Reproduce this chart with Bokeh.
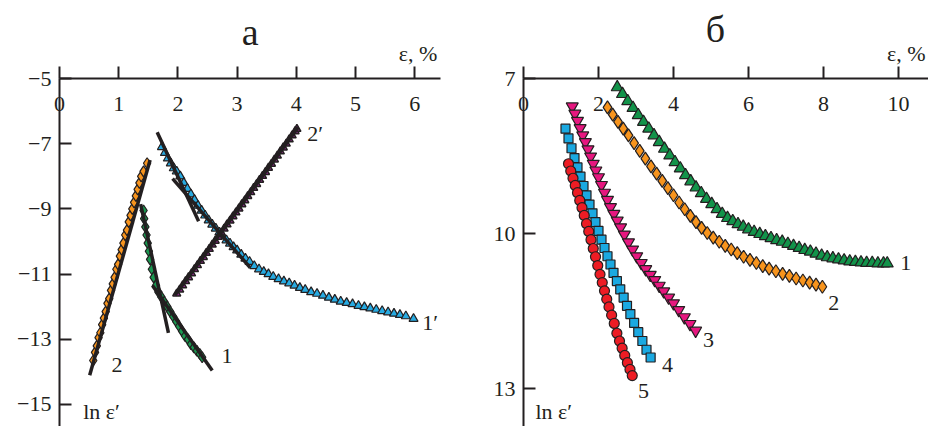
from bokeh.plotting import figure
from bokeh.models import Range1d, FixedTicker, LinearAxis, Label, LabelSet, ColumnDataSource
from bokeh.layouts import row
from bokeh.embed import file_html
from bokeh.resources import INLINE
from bokeh.core.properties import value

FONT = "Liberation Serif"
INK = "#231f20"

# ---------------- panel а ----------------
a_xticks = [0, 1, 2, 3, 4, 5, 6]
a_yticks = [-5, -7, -9, -11, -13, -15]
a_ylabels = ["\u22125", "\u22127", "\u22129", "\u221211", "\u221213", "\u221215"]

# curve 2 (orange diamonds)
a2_x = [0.57, 0.60, 0.63, 0.66, 0.69, 0.72, 0.75, 0.78, 0.81, 0.84, 0.87, 0.90, 0.93, 0.96, 0.99,
        1.02, 1.05, 1.08, 1.11, 1.14, 1.17, 1.20, 1.23, 1.26, 1.29, 1.32, 1.35, 1.38, 1.42, 1.48]
a2_y = [-13.65, -13.4, -13.2, -12.95, -12.8, -12.55, -12.35, -12.15, -11.9, -11.75, -11.5, -11.3, -11.1,
        -10.85, -10.7, -10.45, -10.25, -10.05, -9.8, -9.65, -9.4, -9.2, -9.0, -8.8, -8.6, -8.4, -8.2,
        -8.0, -7.85, -7.6]
# curve 1 (green diamonds)
a1_x = [1.42, 1.43, 1.45, 1.47, 1.49, 1.51, 1.53, 1.56, 1.59, 1.63, 1.67, 1.72, 1.77, 1.82, 1.87,
        1.92, 1.97, 2.02, 2.07, 2.12, 2.17, 2.22, 2.27, 2.32, 2.37, 2.41]
a1_y = [-9.05, -9.3, -9.55, -9.8, -10.05, -10.3, -10.55, -10.85, -11.1, -11.35, -11.55, -11.7, -11.85,
        -12.0, -12.15, -12.3, -12.45, -12.6, -12.75, -12.9, -13.0, -13.15, -13.25, -13.35, -13.45, -13.55]
# curve 1' (blue triangles)
a1p_x = [1.73, 1.78, 1.83, 1.88, 1.93, 1.98, 2.04, 2.10, 2.16, 2.22, 2.28, 2.34, 2.40, 2.46, 2.52,
         2.58, 2.64, 2.70, 2.76, 2.82, 2.88, 2.94, 3.00, 3.07, 3.14, 3.21, 3.29, 3.37, 3.45, 3.53,
         3.61, 3.70, 3.79, 3.88, 3.97, 4.06, 4.15, 4.25, 4.35, 4.45, 4.55, 4.65, 4.75, 4.85, 4.95,
         5.05, 5.15, 5.25, 5.35, 5.45, 5.55, 5.65, 5.75, 5.85, 5.98]
a1p_y = [-7.1, -7.28, -7.45, -7.6, -7.75, -7.85, -8.0, -8.2, -8.38, -8.55, -8.72, -8.9, -9.05, -9.2,
         -9.35, -9.48, -9.6, -9.72, -9.84, -9.96, -10.06, -10.17, -10.27, -10.4, -10.52, -10.62,
         -10.75, -10.85, -10.93, -11.0, -11.08, -11.15, -11.22, -11.28, -11.35, -11.42, -11.48,
         -11.55, -11.6, -11.66, -11.72, -11.78, -11.84, -11.88, -11.92, -11.97, -12.01, -12.05,
         -12.09, -12.13, -12.17, -12.21, -12.25, -12.29, -12.37]
# curve 2' (purple triangles)
a2p_x = [1.98, 2.03, 2.08, 2.13, 2.18, 2.23, 2.28, 2.33, 2.38, 2.43, 2.48, 2.53, 2.58, 2.63, 2.68,
         2.73, 2.78, 2.83, 2.88, 2.93, 2.98, 3.03, 3.08, 3.13, 3.18, 3.23, 3.28, 3.33, 3.38, 3.43,
         3.48, 3.53, 3.58, 3.63, 3.68, 3.73, 3.78, 3.83, 3.88, 3.93, 3.98, 4.01]
a2p_y = [-11.6, -11.48, -11.35, -11.22, -11.1, -10.98, -10.85, -10.73, -10.6, -10.48, -10.35, -10.23,
         -10.1, -9.98, -9.86, -9.73, -9.61, -9.48, -9.36, -9.23, -9.11, -8.99, -8.86, -8.74, -8.61,
         -8.49, -8.36, -8.24, -8.11, -7.99, -7.87, -7.74, -7.62, -7.49, -7.37, -7.24, -7.12, -7.0,
         -6.87, -6.75, -6.62, -6.55]
# straight fitted lines
fit_x0 = [0.51, 1.37, 1.57, 1.65, 1.91, 1.95]
fit_y0 = [-14.1, -8.85, -11.35, -6.65, -8.07, -11.65]
fit_x1 = [1.53, 1.84, 2.58, 2.35, 3.22, 4.03]
fit_y1 = [-7.5, -12.8, -13.96, -9.38, -10.8, -6.5]
a_lab_text = ["2", "1", "1\u2032", "2\u2032"]
a_lab_x = [0.97, 2.83, 6.26, 4.32]
a_lab_y = [-13.8, -13.5, -12.48, -6.69]

# ---------------- panel б ----------------
b_xticks = [0, 2, 4, 6, 8, 10]
b_yticks = [7, 10, 13]
b_ylabels = ["7", "10", "13"]

b1_x = [2.50, 2.64, 2.78, 2.92, 3.06, 3.20, 3.34, 3.48, 3.62, 3.76, 3.90, 4.04, 4.18, 4.32, 4.46,
        4.60, 4.74, 4.88, 5.02, 5.16, 5.30, 5.44, 5.58, 5.72, 5.86, 6.00, 6.15, 6.30, 6.45, 6.60,
        6.75, 6.90, 7.05, 7.20, 7.35, 7.50, 7.65, 7.80, 7.95, 8.10, 8.25, 8.40, 8.55, 8.70, 8.85,
        9.00, 9.15, 9.30, 9.45, 9.60, 9.70]
b1_y = [7.17, 7.30, 7.44, 7.57, 7.71, 7.84, 7.97, 8.10, 8.23, 8.36, 8.49, 8.62, 8.74, 8.87, 8.99,
        9.11, 9.22, 9.33, 9.43, 9.53, 9.62, 9.70, 9.76, 9.82, 9.87, 9.92, 9.97, 10.01, 10.05, 10.09,
        10.13, 10.16, 10.20, 10.24, 10.28, 10.32, 10.35, 10.39, 10.43, 10.46, 10.48, 10.50, 10.52,
        10.54, 10.55, 10.56, 10.57, 10.57, 10.58, 10.58, 10.58]
b2_x = [2.24, 2.38, 2.52, 2.66, 2.80, 2.95, 3.10, 3.25, 3.40, 3.55, 3.70, 3.85, 4.00, 4.15, 4.30,
        4.45, 4.60, 4.75, 4.90, 5.06, 5.22, 5.38, 5.54, 5.70, 5.87, 6.04, 6.21, 6.38, 6.55, 6.73,
        6.91, 7.09, 7.27, 7.45, 7.63, 7.80, 7.97]
b2_y = [7.56, 7.70, 7.84, 7.97, 8.10, 8.25, 8.40, 8.55, 8.70, 8.84, 8.98, 9.12, 9.26, 9.40, 9.53,
        9.66, 9.78, 9.89, 9.99, 10.08, 10.16, 10.24, 10.31, 10.38, 10.45, 10.51, 10.57, 10.63,
        10.68, 10.73, 10.78, 10.82, 10.87, 10.91, 10.95, 10.99, 11.03]
b3_x = [1.30, 1.37, 1.44, 1.51, 1.58, 1.65, 1.72, 1.79, 1.86, 1.93, 2.00, 2.08, 2.16, 2.24, 2.32,
        2.41, 2.50, 2.59, 2.69, 2.80, 2.91, 3.02, 3.14, 3.26, 3.38, 3.50, 3.62, 3.74, 3.87, 4.00,
        4.14, 4.29, 4.44, 4.59]
b3_y = [7.54, 7.68, 7.82, 7.96, 8.10, 8.23, 8.37, 8.51, 8.65, 8.78, 8.91, 9.06, 9.21, 9.35, 9.49,
        9.62, 9.75, 9.88, 10.02, 10.17, 10.31, 10.44, 10.57, 10.69, 10.80, 10.90, 11.01, 11.12,
        11.24, 11.35, 11.48, 11.62, 11.75, 11.88]
b4_x = [1.12, 1.20, 1.28, 1.36, 1.44, 1.52, 1.60, 1.68, 1.76, 1.84, 1.92, 2.00, 2.08, 2.16, 2.24,
        2.32, 2.40, 2.49, 2.58, 2.67, 2.76, 2.85, 2.95, 3.06, 3.17, 3.28, 3.39]
b4_y = [7.97, 8.16, 8.35, 8.54, 8.72, 8.90, 9.08, 9.26, 9.44, 9.61, 9.78, 9.95, 10.12, 10.28, 10.44,
        10.60, 10.76, 10.92, 11.08, 11.24, 11.40, 11.56, 11.73, 11.91, 12.08, 12.25, 12.40]
b5_x = [1.20, 1.26, 1.32, 1.38, 1.44, 1.50, 1.56, 1.62, 1.68, 1.74, 1.80, 1.86, 1.92, 1.98, 2.04,
        2.10, 2.16, 2.22, 2.28, 2.35, 2.42, 2.49, 2.56, 2.63, 2.70, 2.77, 2.84, 2.90]
b5_y = [8.65, 8.79, 8.93, 9.07, 9.21, 9.36, 9.50, 9.65, 9.81, 9.96, 10.12, 10.29, 10.45, 10.62,
        10.79, 10.95, 11.11, 11.27, 11.42, 11.58, 11.74, 11.93, 12.08, 12.22, 12.36, 12.50, 12.63,
        12.75]
b_lab_text = ["1", "2", "3", "4", "5"]
b_lab_x = [10.19, 8.27, 4.93, 3.84, 3.2]
b_lab_y = [10.58, 11.35, 12.07, 12.55, 13.04]

H = 426


def make_panel(width, xr, yr, x_axis_end, y_axis_far, xticks, yticks, ylabels):
    """xr/yr span the whole canvas; the axes sit at x=0 and y=yticks[0]."""
    p = figure(width=width, height=H, x_range=Range1d(*xr), y_range=Range1d(*yr),
               output_backend="svg", toolbar_location=None,
               x_axis_location=None, y_axis_location=None,
               min_border=0)
    p.outline_line_color = None
    p.grid.visible = False
    y_top = yticks[0]
    xa = LinearAxis(ticker=FixedTicker(ticks=xticks), fixed_location=y_top, bounds=(0, x_axis_end))
    xa.major_tick_out = 12
    xa.major_tick_in = 0
    xa.minor_tick_line_color = None
    xa.major_label_text_font = FONT
    xa.major_label_text_font_size = "22px"
    xa.major_label_text_color = INK
    xa.major_label_standoff = -44
    xa.axis_line_width = 2
    xa.major_tick_line_width = 2
    xa.axis_line_color = INK
    xa.major_tick_line_color = INK
    p.add_layout(xa, "above")
    ya = LinearAxis(ticker=FixedTicker(ticks=yticks), fixed_location=0,
                    bounds=tuple(sorted((y_top, y_axis_far))))
    ya.major_tick_out = 0
    ya.major_tick_in = 12
    ya.minor_tick_line_color = None
    ya.axis_line_width = 2
    ya.major_tick_line_width = 2
    ya.axis_line_color = INK
    ya.major_tick_line_color = INK
    ya.major_label_overrides = {t: s for t, s in zip(yticks, ylabels)}
    ya.major_label_text_font = FONT
    ya.major_label_text_font_size = "22px"
    ya.major_label_text_color = INK
    ya.major_label_standoff = 8
    p.add_layout(ya, "left")
    return p


def text_label(p, x, y, text, size="22px", align="left"):
    p.add_layout(Label(x=x, y=y, text=text, text_align=align, text_baseline="alphabetic",
                       text_font=FONT, text_font_size=size, text_color=INK))


def curve_labels(p, xs, ys, texts):
    src = ColumnDataSource(dict(x=xs, y=ys, t=texts))
    p.add_layout(LabelSet(x="x", y="y", text="t", source=src, text_align="center",
                          text_baseline="middle", text_font=value(FONT), text_font_size=value("22px"),
                          text_color=INK))


# ---- panel а : 59.2 px per unit in x, 32.6 px per unit in y
pa = make_panel(463, (-0.9966, 6.824), (-15.675, -2.607), 6.436, -15.675,
                a_xticks, a_yticks, a_ylabels)
pa.scatter(a2_x, a2_y, marker="diamond", size=11, fill_color="#f7941d", line_color=INK, line_width=1.2)
pa.scatter(a1_x, a1_y, marker="diamond", size=11, fill_color="#1a9850", line_color=INK, line_width=1.2)
pa.scatter(a1p_x, a1p_y, marker="triangle", size=9, fill_color="#27aae1", line_color=INK, line_width=1.2)
pa.scatter(a2p_x, a2p_y, marker="triangle", size=8, fill_color="#92278f", line_color=INK, line_width=1.5)
pa.segment(fit_x0, fit_y0, fit_x1, fit_y1, line_color=INK, line_width=3.5)
curve_labels(pa, a_lab_x, a_lab_y, a_lab_text)
text_label(pa, 3.22, -3.558, "\u0430", size="38px", align="center")
text_label(pa, 6.38, -4.233, "\u03b5, %", align="right")
text_label(pa, 0.4, -15.215, "ln \u03b5\u2032")

# ---- panel б : 37.5 px per unit in x, 51.67 px per unit in y (inverted)
pb = make_panel(465, (-1.6, 10.8), (13.735, 5.49), 10.8, 13.735,
                b_xticks, b_yticks, b_ylabels)
pb.scatter(b1_x, b1_y, marker="triangle", size=12, fill_color="#12934a", line_color=INK, line_width=1.2)
pb.scatter(b2_x, b2_y, marker="diamond", size=13, fill_color="#f7941d", line_color=INK, line_width=1.2)
pb.scatter(b3_x, b3_y, marker="inverted_triangle", size=12, fill_color="#e6177f", line_color=INK, line_width=1.2)
pb.scatter(b4_x, b4_y, marker="square", size=9, fill_color="#1ba9e1", line_color=INK, line_width=1.2)
pb.scatter(b5_x, b5_y, marker="circle", size=10, fill_color="#ed1c24", line_color=INK, line_width=1.2)
curve_labels(pb, b_lab_x, b_lab_y, b_lab_text)
text_label(pb, 5.12, 6.032, "\u0431", size="38px", align="center")
text_label(pb, 10.72, 6.516, "\u03b5, %", align="right")
text_label(pb, 0.32, 13.445, "ln \u03b5\u2032")

layout = row(pa, pb)
open("out.html", "w").write(file_html(layout, INLINE))
